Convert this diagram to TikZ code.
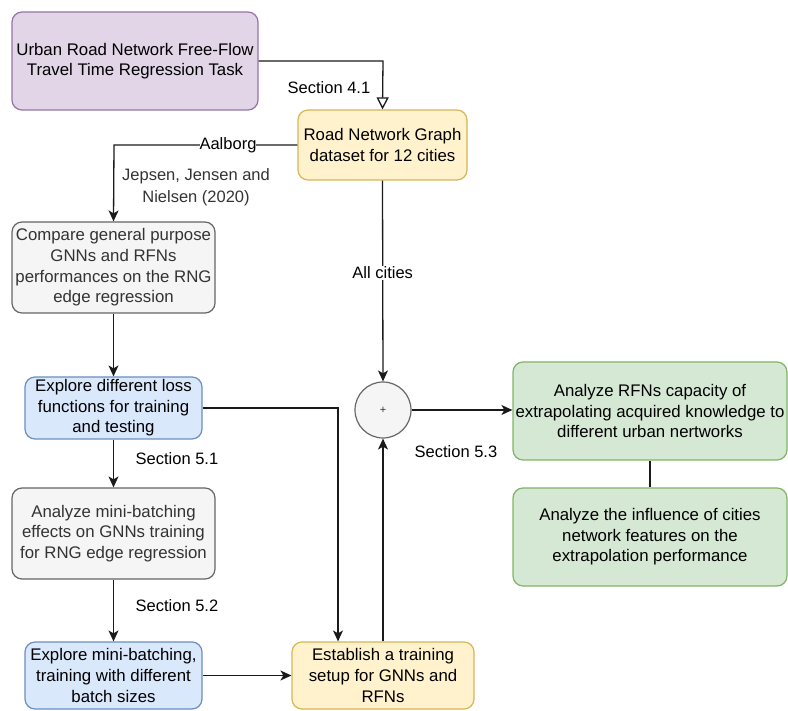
\documentclass[tikz,border=0pt]{standalone}
\usepackage{fontspec}
\setmainfont{Liberation Sans}
\usetikzlibrary{arrows.meta,positioning}
\definecolor{purpleF}{HTML}{E1D5E7}\definecolor{purpleD}{HTML}{9673A6}
\definecolor{yellowF}{HTML}{FFF2CC}\definecolor{yellowD}{HTML}{D6B656}
\definecolor{grayF}{HTML}{F5F5F5}\definecolor{grayD}{HTML}{666666}
\definecolor{grayT}{HTML}{333333}
\definecolor{blueF}{HTML}{DAE8FC}\definecolor{blueD}{HTML}{6C8EBF}
\definecolor{greenF}{HTML}{D5E8D4}\definecolor{greenD}{HTML}{82B366}
\definecolor{lineC}{HTML}{1A1A1A}
\tikzset{
  box/.style={rounded corners=10pt, line width=1.2pt, inner sep=0pt, align=center,
    font=\fontsize{16.8}{20.6}\selectfont},
  purplebox/.style={box, fill=purpleF, draw=purpleD},
  yellowbox/.style={box, fill=yellowF, draw=yellowD},
  graybox/.style={box, fill=grayF, draw=grayD, text=grayT},
  bluebox/.style={box, fill=blueF, draw=blueD},
  greenbox/.style={box, fill=greenF, draw=greenD},
  conn/.style={line width=1.3pt, draw=lineC},
  arr/.style={conn, -{Stealth[length=11pt,width=10pt,inset=3pt]}},
  lbl/.style={font=\fontsize{16.5}{20}\selectfont, inner sep=1pt},
}
\begin{document}
\begin{tikzpicture}[x=1pt,y=-1pt]
\useasboundingbox (0,0) rectangle (788,711);

% process boxes
\node[purplebox, minimum width=246pt, minimum height=98pt] (task) at (135,61)
  {Urban Road Network Free-Flow\\Travel Time Regression Task};
\node[yellowbox, minimum width=169pt, minimum height=70pt] (rng) at (382.5,145)
  {Road Network Graph\\dataset for 12 cities};
\node[graybox, minimum width=203pt, minimum height=91pt] (cmp) at (113.5,267.5)
  {Compare general purpose\\GNNs and RFNs\\performances on the RNG\\edge regression};
\node[bluebox, minimum width=177pt, minimum height=62pt] (loss) at (113.5,408)
  {Explore different loss\\functions for training\\and testing};
\node[graybox, minimum width=203pt, minimum height=91pt] (mini) at (113.5,533.5)
  {Analyze mini-batching\\effects on GNNs training\\for RNG edge regression};
\node[bluebox, minimum width=177pt, minimum height=67pt] (batch) at (113.5,675.5)
  {Explore mini-batching,\\training with different\\batch sizes};
\node[yellowbox, minimum width=182pt, minimum height=67pt] (setup) at (383,675.5)
  {Establish a training\\setup for GNNs and\\RFNs};
\node[circle, fill=grayF, draw=grayD, line width=1.2pt, minimum size=56pt, inner sep=0pt,
  text=grayT, font=\fontsize{11}{12}\selectfont] (plus) at (383,410) {+};
\node[greenbox, minimum width=274pt, minimum height=98pt] (extra) at (650,411)
  {Analyze RFNs capacity of\\extrapolating acquired knowledge to\\different urban nertworks};
\node[greenbox, minimum width=274pt, minimum height=98pt] (infl) at (650,537)
  {Analyze the influence of cities\\network features on the\\extrapolation performance};

% reference note
\node[lbl, text=grayT, align=center, font=\fontsize{16.5}{22}\selectfont] (ref) at (196,187)
  {Jepsen, Jensen and\\Nielsen (2020)};

% connectors
\coordinate (c1) at (383,61);
\draw[conn, -{Triangle[open,length=12pt,width=12pt]}] (task.east |- c1) -- (c1) -- (rng.north);
\node[lbl] (s41) at (329,88) {Section 4.1};

\coordinate (c2) at (114,145);
\draw[arr] (rng.west) -- (c2) -- (cmp.north);
\node[lbl, fill=white, inner sep=0pt] (aal) at (228,145) {Aalborg};

\draw[arr] (rng.south) -- node[lbl, fill=white, pos=0.46] (allc) {All cities} (plus.north);

\draw[arr] (cmp.south) -- (loss.north);
\draw[arr] (loss.south) -- (mini.north);
\node[lbl] (s51) at (177,459) {Section 5.1};
\draw[arr] (mini.south) -- (batch.north);
\node[lbl] (s52) at (177,606) {Section 5.2};

\coordinate (c3) at (338,408);
\draw[arr] (loss.east) -- (c3) -- (c3 |- setup.north);
\draw[arr] (batch.east) -- (setup.west);
\draw[arr] (setup.north) -- (plus.south);
\node[lbl] (s53) at (456,452) {Section 5.3};
\draw[arr] (plus.east) -- (plus.east -| extra.west);
\draw[conn] (extra.south) -- (infl.north);
\end{tikzpicture}
\end{document}
